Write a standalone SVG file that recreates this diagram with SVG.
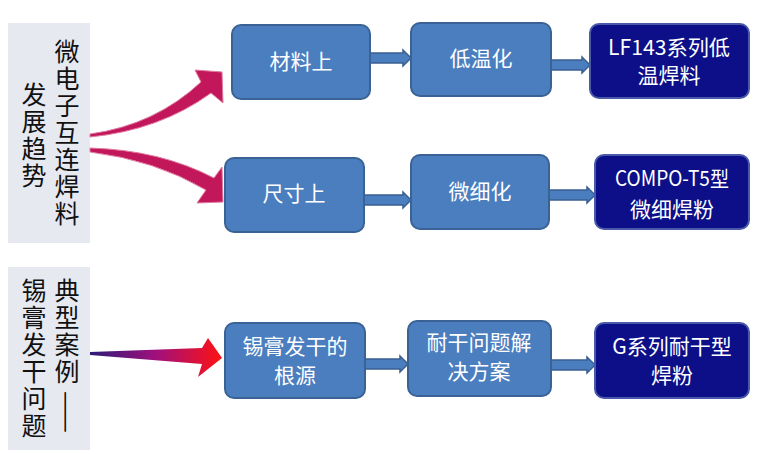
<svg xmlns="http://www.w3.org/2000/svg" width="760" height="454" viewBox="0 0 760 454">
<defs>
<style>
.panel{fill:#e7e9f1}
.lt{font-family:"Noto Sans CJK SC","Noto Sans",sans-serif;font-size:25px;fill:#111;text-anchor:middle}
.box{fill:#4a7ebf;stroke:#3a6294;stroke-width:2}
.dbox{fill:#0c0f88;stroke:#4a5aa8;stroke-width:2}
.bt{font-family:"Noto Sans CJK SC","Noto Sans",sans-serif;font-size:21px;fill:#fff;text-anchor:middle}
.barrow{fill:#4a7ebf;stroke:#3a5f92;stroke-width:1.5}
.curve{fill:#c2185b;stroke:#e07aa0;stroke-width:1}
</style>
<linearGradient id="g3" x1="90" y1="0" x2="222" y2="0" gradientUnits="userSpaceOnUse">
<stop offset="0" stop-color="#2c1c78"/>
<stop offset="0.5" stop-color="#a0107c"/>
<stop offset="1" stop-color="#ff1212"/>
</linearGradient>
</defs>
<rect width="760" height="454" fill="#ffffff"/>

<g id="panel-trend">
<rect class="panel" x="8" y="23" width="82" height="220"/>
<text class="lt" x="67" y="61">微</text>
<text class="lt" x="67" y="88">电</text>
<text class="lt" x="67" y="115">子</text>
<text class="lt" x="67" y="142">互</text>
<text class="lt" x="67" y="169">连</text>
<text class="lt" x="67" y="196">焊</text>
<text class="lt" x="67" y="223">料</text>
<text class="lt" x="34" y="104">发</text>
<text class="lt" x="34" y="131">展</text>
<text class="lt" x="34" y="158">趋</text>
<text class="lt" x="34" y="185">势</text>
</g>

<g id="panel-case">
<rect class="panel" x="8" y="267" width="82" height="183"/>
<text class="lt" x="67" y="300">典</text>
<text class="lt" x="67" y="327">型</text>
<text class="lt" x="67" y="354">案</text>
<text class="lt" x="67" y="381">例</text>
<text class="lt" transform="translate(67,412) rotate(90)" x="0" y="9">——</text>
<text class="lt" x="34" y="300">锡</text>
<text class="lt" x="34" y="327">膏</text>
<text class="lt" x="34" y="354">发</text>
<text class="lt" x="34" y="381">干</text>
<text class="lt" x="34" y="408">问</text>
<text class="lt" x="34" y="435">题</text>
</g>

<g id="connectors">
<path class="curve" d="M90,134 Q155,125 201,82 L195,70 L222,72 L223,103 L211,93 Q160,130 90,137 Z"/>
<path class="curve" d="M90,148 Q160,150 214,178 L222,167 L223,202 L197,203 L206,190 Q155,160 90,152 Z"/>
<path fill="url(#g3)" d="M90,352 L202,348 L208,338 L222,358 L198,377 L202,364 L90,355 Z"/>
<path class="barrow" d="M370,53 L403,53 L403,50 L411,58 L403,66 L403,63 L370,63 Z"/>
<path class="barrow" d="M551,60 L582,60 L582,57 L590,65 L582,73 L582,70 L551,70 Z"/>
<path class="barrow" d="M364,195 L403,195 L403,192 L411,200 L403,208 L403,205 L364,205 Z"/>
<path class="barrow" d="M549,190 L587,190 L587,187 L595,195 L587,203 L587,200 L549,200 Z"/>
<path class="barrow" d="M365,359 L400,359 L400,356 L408,364 L400,372 L400,369 L365,369 Z"/>
<path class="barrow" d="M551,360 L587,360 L587,357 L595,365 L587,373 L587,370 L551,370 Z"/>
</g>

<g id="node-material">
<rect class="box" x="232" y="25" width="138" height="74" rx="9"/>
<text class="bt" x="301" y="69">材料上</text>
</g>
<g id="node-lowtemp">
<rect class="box" x="411" y="23" width="140" height="73" rx="9"/>
<text class="bt" x="481" y="66">低温化</text>
</g>
<g id="node-lf143">
<rect class="dbox" x="590" y="24" width="159" height="74" rx="9"/>
<text class="bt" x="669" y="55" textLength="122" lengthAdjust="spacingAndGlyphs">LF143系列低</text>
<text class="bt" x="669" y="83">温焊料</text>
</g>

<g id="node-size">
<rect class="box" x="225" y="158" width="139" height="74" rx="9"/>
<text class="bt" x="294" y="201">尺寸上</text>
</g>
<g id="node-fine">
<rect class="box" x="411" y="155" width="138" height="74" rx="9"/>
<text class="bt" x="480" y="199">微细化</text>
</g>
<g id="node-compo">
<rect class="dbox" x="595" y="155" width="154" height="74" rx="9"/>
<text class="bt" x="672" y="186" textLength="114" lengthAdjust="spacingAndGlyphs">COMPO-T5型</text>
<text class="bt" x="672" y="217">微细焊粉</text>
</g>

<g id="node-root">
<rect class="box" x="225" y="323" width="140" height="75" rx="9"/>
<text class="bt" x="295" y="354">锡膏发干的</text>
<text class="bt" x="295" y="383">根源</text>
</g>
<g id="node-solution">
<rect class="box" x="408" y="321" width="143" height="75" rx="9"/>
<text class="bt" x="479" y="350">耐干问题解</text>
<text class="bt" x="479" y="379">决方案</text>
</g>
<g id="node-gseries">
<rect class="dbox" x="595" y="323" width="154" height="75" rx="9"/>
<text class="bt" x="672" y="354">G系列耐干型</text>
<text class="bt" x="672" y="383">焊粉</text>
</g>
</svg>
